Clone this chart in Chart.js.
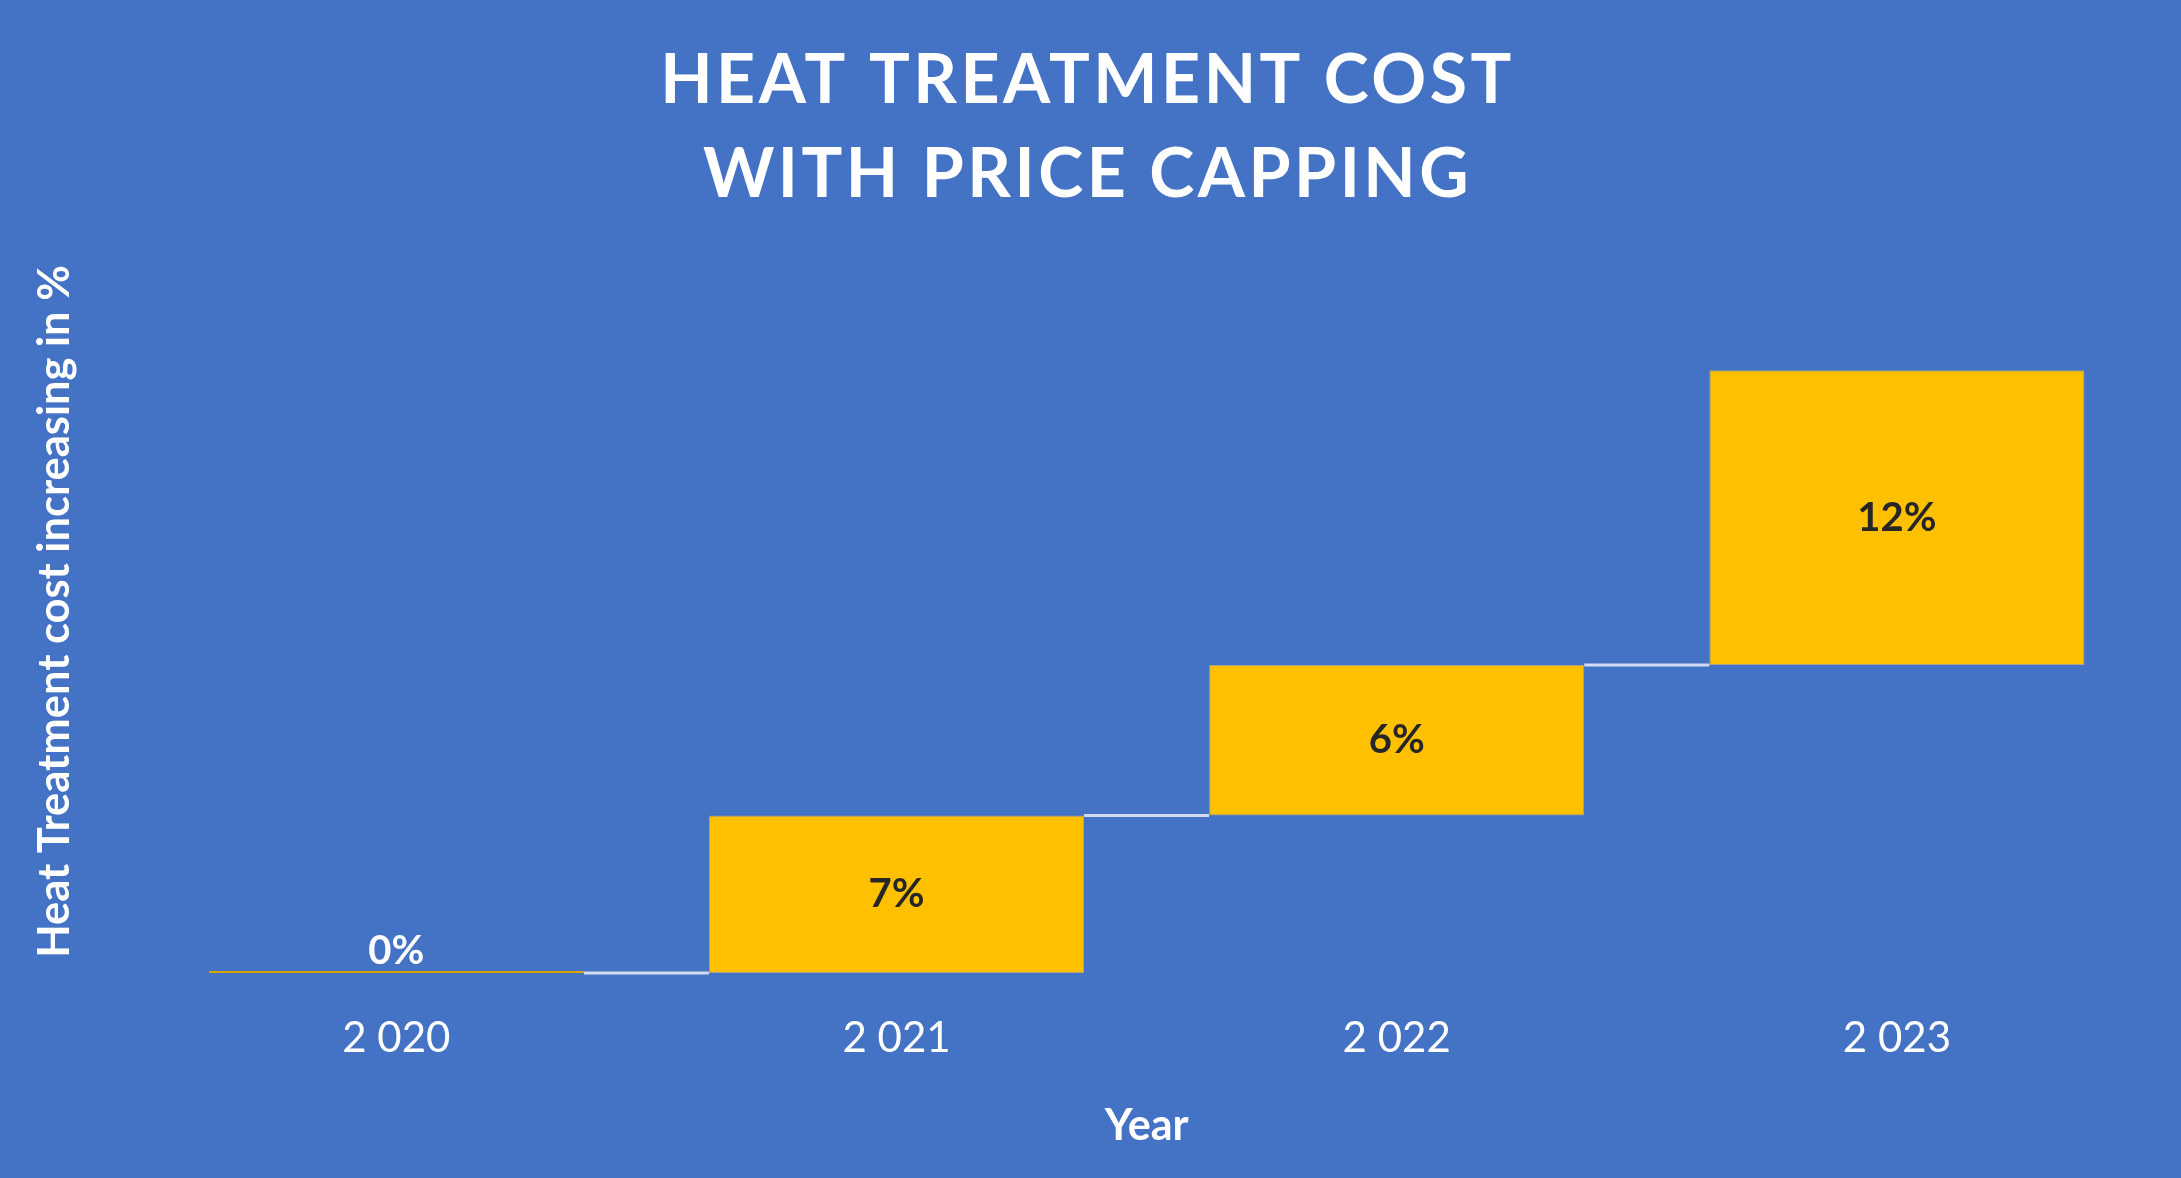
<!DOCTYPE html>
<html>
<head>
<meta charset="utf-8">
<script src="https://cdn.jsdelivr.net/npm/chart.js@4"></script>
<style>
  html, body { margin: 0; padding: 0; background: #4472C4; }
  #wrap { width: 2181px; height: 1178px; }
</style>
</head>
<body>
<div id="wrap"><canvas id="grafico"></canvas></div>
<script>
const years = ["2 020", "2 021", "2 022", "2 023"];
// increase per year, in %
const increments = [0, 7, 6.7, 13.1];
// texts printed on the bars
const labelTexts = ["0%", "7%", "6%", "12%"];
const titleLines = ["HEAT TREATMENT COST", "WITH PRICE CAPPING"];

// floating bars [start, end] from the running total
let total = 0;
const floating = increments.map(v => {
  const start = total;
  total += v;
  return [start, total];
});

const tituloPlugin = {
  id: "titulo",
  afterDraw(chart) {
    const ctx = chart.ctx;
    ctx.save();
    ctx.fillStyle = "#ffffff";
    ctx.font = "bold 68px Lato";
    ctx.textAlign = "center";
    ctx.textBaseline = "middle";
    ctx.letterSpacing = "3.5px";
    const cx = chart.width / 2 - 3;
    ctx.fillText(titleLines[0], cx, 81);
    ctx.fillText(titleLines[1], cx, 175);
    ctx.restore();
  }
};

const conectores = {
  id: "conectores",
  afterDatasetsDraw(chart) {
    const ctx = chart.ctx;
    const meta = chart.getDatasetMeta(0);
    const y = chart.scales.y;
    ctx.save();
    ctx.strokeStyle = "#D3DBF0";
    ctx.lineWidth = 3;
    for (let i = 0; i < meta.data.length - 1; i++) {
      const a = meta.data[i];
      const b = meta.data[i + 1];
      const py = y.getPixelForValue(floating[i][1]);
      ctx.beginPath();
      ctx.moveTo(a.x + a.width / 2, py);
      ctx.lineTo(b.x - b.width / 2, py);
      ctx.stroke();
    }
    ctx.restore();
  }
};

const rotulos = {
  id: "rotulos",
  afterDatasetsDraw(chart) {
    const ctx = chart.ctx;
    const meta = chart.getDatasetMeta(0);
    ctx.save();
    ctx.font = "bold 40px Lato";
    ctx.textAlign = "center";
    ctx.textBaseline = "middle";
    meta.data.forEach((bar, i) => {
      if (increments[i] === 0) {
        ctx.fillStyle = "#ffffff";
        ctx.fillText(labelTexts[i], bar.x, bar.y - 20);
      } else {
        ctx.fillStyle = "#262626";
        ctx.fillText(labelTexts[i], bar.x, (bar.y + bar.base) / 2);
      }
    });
    ctx.restore();
  }
};

new Chart(document.getElementById("grafico"), {
  type: "bar",
  data: {
    labels: years,
    datasets: [{
      data: floating,
      backgroundColor: "#FFC000",
      borderColor: ["#D9A400", "#A9A28C", "#A9A28C", "#A9A28C"],
      borderWidth: 1,
      borderSkipped: false,
      minBarLength: 2,
      barPercentage: 0.75,
      categoryPercentage: 1
    }]
  },
  options: {
    responsive: true,
    maintainAspectRatio: false,
    animation: false,
    layout: { padding: { top: 250, right: 34, left: 0, bottom: 0 } },
    plugins: {
      legend: { display: false },
      tooltip: { enabled: false }
    },
    scales: {
      x: {
        grid: { display: false, drawTicks: false },
        border: { display: false },
        ticks: { color: "#ffffff", font: { family: "Lato", size: 42 }, padding: 40 },
        title: {
          display: true,
          text: "Year",
          color: "#ffffff",
          font: { family: "Lato", size: 43, weight: "bold" },
          padding: { top: -3, bottom: 26 }
        }
      },
      y: {
        min: 0,
        max: 32.15,
        grid: { display: false, drawTicks: false },
        border: { display: false },
        ticks: { display: false },
        title: {
          display: true,
          text: "Heat Treatment cost increasing in %",
          color: "#ffffff",
          font: { family: "Lato", size: 43.5, weight: "bold" },
          padding: { top: 29, bottom: 65 }
        }
      }
    }
  },
  plugins: [conectores, rotulos, tituloPlugin]
});
</script>
</body>
</html>
